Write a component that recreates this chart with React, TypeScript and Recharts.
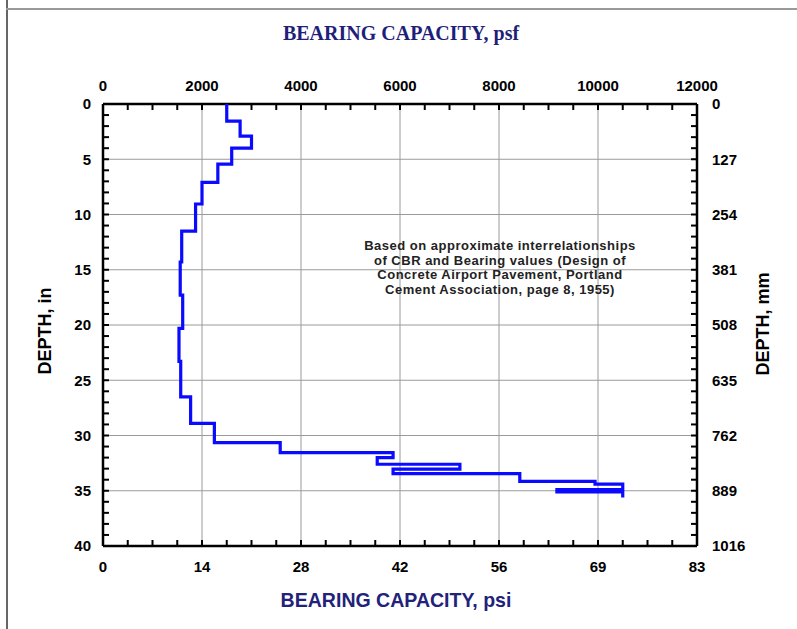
import { ScatterChart, Scatter, XAxis, YAxis, CartesianGrid } from 'recharts';

// depth boundaries of each layer (in) and bearing capacity for each layer (psf)
const layerBoundsIn = [0, 1.55, 2.9, 4.0, 5.45, 7.1, 9.05, 11.5, 14.3, 17.3, 20.3, 23.3, 26.5, 28.9, 30.65, 31.55, 32.0, 32.6, 33.05, 33.45, 34.15, 34.4, 34.9, 35.1, 35.6];
const layerPsf = [2500, 2770, 3000, 2600, 2320, 2000, 1870, 1590, 1560, 1610, 1535, 1570, 1770, 2250, 3580, 5860, 5540, 7210, 5860, 8420, 9940, 10500, 9170, 10500];

const psfTicks = [0, 2000, 4000, 6000, 8000, 10000, 12000];
const psiLabels = ['0', '14', '28', '42', '56', '69', '83'];
const depthTicks = [0, 5, 10, 15, 20, 25, 30, 35, 40];
const mmTicks = [0, 127, 254, 381, 508, 635, 762, 889, 1016];
const psfMinorTicks = Array.from({ length: 25 }, (_, i) => i * 500);
const depthMinorTicks = Array.from({ length: 41 }, (_, i) => i);

const stepData: { psf: number; depth: number }[] = [];
layerPsf.forEach((v, i) => {
  stepData.push({ psf: v, depth: layerBoundsIn[i] });
  stepData.push({ psf: v, depth: layerBoundsIn[i + 1] });
});

const psiFormatter = (v: number) => {
  const i = psfTicks.indexOf(v);
  return i >= 0 ? psiLabels[i] : '';
};

const tickStyle = { fontFamily: 'Liberation Sans, Arial, sans-serif', fontWeight: 700, fontSize: 15, fill: '#000' };
const axisStroke = { stroke: '#000', strokeWidth: 2.5 };
const minorTick = { stroke: '#000', strokeWidth: 2 };
const noLabel = () => <g />;

const noShape = () => <g />;

export default function App() {
  return (
    <div style={{ position: 'absolute', left: 0, top: 0, width: 797, height: 629, background: '#fff', overflow: 'hidden' }}>
      <div style={{ position: 'absolute', left: 6, top: 0, width: 1.5, height: 629, background: '#666' }} />
      <div style={{ position: 'absolute', left: 6, top: 8, width: 791, height: 1.5, background: '#999' }} />

      <ScatterChart width={797} height={629} margin={{ top: 74, right: 50, bottom: 53, left: 53 }}>
        <CartesianGrid xAxisId="psf" yAxisId="in" stroke="#9a9a9a" strokeWidth={1} />

        <XAxis xAxisId="psf" dataKey="psf" orientation="top" height={30} type="number" domain={[0, 12000]}
          allowDataOverflow ticks={psfTicks} interval={0} tick={tickStyle} tickLine={false} axisLine={false} tickSize={6} tickMargin={7} />
        <XAxis xAxisId="psi" dataKey="psf" orientation="bottom" height={30} type="number" domain={[0, 12000]}
          allowDataOverflow ticks={psfTicks} interval={0} tick={tickStyle} tickLine={false} axisLine={false} tickSize={6} tickMargin={9}
          tickFormatter={psiFormatter} />
        <YAxis yAxisId="in" dataKey="depth" orientation="left" width={50} type="number" domain={[0, 40]} reversed
          allowDataOverflow ticks={depthTicks} interval={0} tick={tickStyle} tickLine={false} axisLine={false} tickSize={6} tickMargin={6} />
        <YAxis yAxisId="mm" orientation="right" width={50} type="number" domain={[0, 1016]} reversed
          allowDataOverflow ticks={mmTicks} interval={0} tick={{ ...tickStyle, textAnchor: 'start' }} tickLine={false} axisLine={false} tickSize={6} tickMargin={9} />

        <XAxis xAxisId="psfMinorTop" dataKey="psf" orientation="top" mirror height={1} type="number" domain={[0, 12000]}
          allowDataOverflow ticks={psfMinorTicks} interval={0} tick={noLabel} tickSize={6} tickLine={minorTick} axisLine={axisStroke} />
        <XAxis xAxisId="psfMinorBottom" dataKey="psf" orientation="bottom" mirror height={1} type="number" domain={[0, 12000]}
          allowDataOverflow ticks={psfMinorTicks} interval={0} tick={noLabel} tickSize={6} tickLine={minorTick} axisLine={axisStroke} />
        <YAxis yAxisId="inMinorLeft" dataKey="depth" orientation="left" mirror width={1} type="number" domain={[0, 40]} reversed
          allowDataOverflow ticks={depthMinorTicks} interval={0} tick={noLabel} tickSize={6} tickLine={minorTick} axisLine={axisStroke} />
        <YAxis yAxisId="inMinorRight" dataKey="depth" orientation="right" mirror width={1} type="number" domain={[0, 40]} reversed
          allowDataOverflow ticks={depthMinorTicks} interval={0} tick={noLabel} tickSize={6} tickLine={minorTick} axisLine={axisStroke} />

        <Scatter data={stepData} xAxisId="psf" yAxisId="in" fill="#0000ff" shape={noShape}
          line={{ stroke: '#0a0aff', strokeWidth: 3.2 }} isAnimationActive={false} />
      </ScatterChart>

      <div style={{ position: 'absolute', left: 401, top: 33, transform: 'translate(-50%, -50%)', whiteSpace: 'nowrap',
        fontFamily: 'Liberation Serif, Times New Roman, serif', fontWeight: 700, fontSize: 20, color: '#1f1f7a' }}>
        BEARING CAPACITY, psf
      </div>
      <div style={{ position: 'absolute', left: 396, top: 600, transform: 'translate(-50%, -50%) scaleX(0.93)', whiteSpace: 'nowrap',
        fontFamily: 'Liberation Sans, Arial, sans-serif', fontWeight: 700, fontSize: 21, color: '#22227a' }}>
        BEARING CAPACITY, psi
      </div>
      <div style={{ position: 'absolute', left: 45, top: 331, transform: 'translate(-50%, -50%) rotate(-90deg)', whiteSpace: 'nowrap',
        fontFamily: 'Liberation Sans, Arial, sans-serif', fontWeight: 700, fontSize: 18, color: '#000' }}>
        DEPTH, in
      </div>
      <div style={{ position: 'absolute', left: 763, top: 324, transform: 'translate(-50%, -50%) rotate(-90deg)', whiteSpace: 'nowrap',
        fontFamily: 'Liberation Sans, Arial, sans-serif', fontWeight: 700, fontSize: 18, color: '#000' }}>
        DEPTH, mm
      </div>
      <div style={{ position: 'absolute', left: 500, top: 268, transform: 'translate(-50%, -50%)', whiteSpace: 'nowrap', textAlign: 'center',
        fontFamily: 'Liberation Sans, Arial, sans-serif', fontWeight: 700, fontSize: 13, letterSpacing: 0.5, lineHeight: '14.5px', color: '#222' }}>
        Based on approximate interrelationships<br />
        of CBR and Bearing values (Design of<br />
        Concrete Airport Pavement, Portland<br />
        Cement Association, page 8, 1955)
      </div>
    </div>
  );
}
